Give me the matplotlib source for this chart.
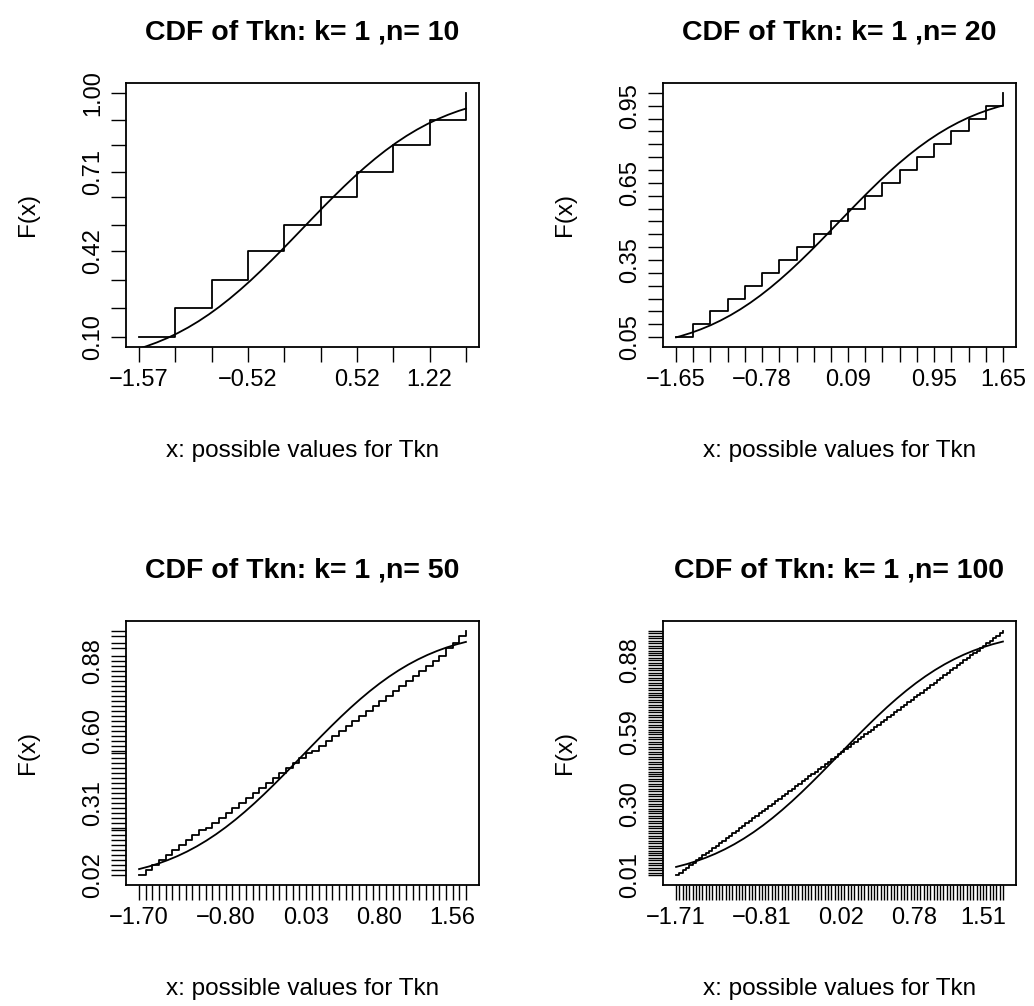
import matplotlib
matplotlib.use("Agg")
import matplotlib.pyplot as plt

plt.rcParams["font.family"] = ["Liberation Sans", "DejaVu Sans"]

# possible values of Tkn (x) and step heights F(x), one pair per panel
x_n10 = [-1.571, -1.222, -0.873, -0.524, -0.175, 0.175, 0.524, 0.873, 1.222, 1.571]
F_n10 = [0.100, 0.208, 0.309, 0.418, 0.512, 0.617, 0.708, 0.806, 0.899, 1.000]

x_n20 = [-1.650, -1.476, -1.303, -1.129, -0.955, -0.782, -0.608, -0.434, -0.261, -0.087,
         0.087, 0.261, 0.434, 0.608, 0.782, 0.955, 1.129, 1.303, 1.476, 1.650]
F_n20 = [0.05, 0.10, 0.15, 0.20, 0.25, 0.30, 0.35, 0.40, 0.45, 0.50,
         0.55, 0.60, 0.65, 0.70, 0.75, 0.80, 0.85, 0.90, 0.95, 1.00]

x_n50 = [-1.700, -1.631, -1.561, -1.492, -1.422, -1.353, -1.284, -1.214, -1.145, -1.076,
         -1.006, -0.937, -0.867, -0.798, -0.729, -0.659, -0.590, -0.520, -0.451, -0.382,
         -0.312, -0.243, -0.173, -0.104, -0.035, 0.035, 0.104, 0.173, 0.243, 0.312,
         0.382, 0.451, 0.520, 0.590, 0.659, 0.729, 0.798, 0.867, 0.937, 1.006,
         1.076, 1.145, 1.214, 1.284, 1.353, 1.422, 1.492, 1.561, 1.631, 1.700]
F_n50 = [0.02, 0.04, 0.06, 0.08, 0.10, 0.12, 0.14, 0.16, 0.18, 0.20,
         0.21, 0.23, 0.25, 0.27, 0.29, 0.31, 0.33, 0.35, 0.37, 0.39,
         0.41, 0.43, 0.45, 0.47, 0.49, 0.51, 0.52, 0.54, 0.56, 0.58,
         0.60, 0.62, 0.64, 0.66, 0.68, 0.70, 0.72, 0.74, 0.76, 0.78,
         0.80, 0.82, 0.84, 0.86, 0.88, 0.90, 0.93, 0.95, 0.98, 1.00]

x_n100 = [-1.710, -1.675, -1.641, -1.606, -1.572, -1.537, -1.503, -1.468, -1.434, -1.399,
          -1.365, -1.330, -1.295, -1.261, -1.226, -1.192, -1.157, -1.123, -1.088, -1.054,
          -1.019, -0.985, -0.950, -0.915, -0.881, -0.846, -0.812, -0.777, -0.743, -0.708,
          -0.674, -0.639, -0.605, -0.570, -0.535, -0.501, -0.466, -0.432, -0.397, -0.363,
          -0.328, -0.294, -0.259, -0.225, -0.190, -0.155, -0.121, -0.086, -0.052, -0.017,
          0.017, 0.052, 0.086, 0.121, 0.155, 0.190, 0.225, 0.259, 0.294, 0.328,
          0.363, 0.397, 0.432, 0.466, 0.501, 0.535, 0.570, 0.605, 0.639, 0.674,
          0.708, 0.743, 0.777, 0.812, 0.846, 0.881, 0.915, 0.950, 0.985, 1.019,
          1.054, 1.088, 1.123, 1.157, 1.192, 1.226, 1.261, 1.295, 1.330, 1.365,
          1.399, 1.434, 1.468, 1.503, 1.537, 1.572, 1.606, 1.641, 1.675, 1.710]
F_n100 = [0.01, 0.02, 0.03, 0.04, 0.05, 0.06, 0.07, 0.08, 0.09, 0.10,
          0.11, 0.12, 0.13, 0.14, 0.15, 0.16, 0.17, 0.18, 0.19, 0.20,
          0.21, 0.22, 0.23, 0.24, 0.25, 0.26, 0.27, 0.28, 0.29, 0.30,
          0.31, 0.32, 0.33, 0.34, 0.35, 0.36, 0.37, 0.38, 0.39, 0.40,
          0.41, 0.42, 0.43, 0.44, 0.45, 0.46, 0.47, 0.48, 0.49, 0.50,
          0.51, 0.52, 0.53, 0.54, 0.55, 0.56, 0.57, 0.58, 0.59, 0.60,
          0.61, 0.62, 0.63, 0.64, 0.65, 0.66, 0.67, 0.68, 0.69, 0.70,
          0.71, 0.72, 0.73, 0.74, 0.75, 0.76, 0.77, 0.78, 0.79, 0.80,
          0.81, 0.82, 0.83, 0.84, 0.85, 0.86, 0.87, 0.88, 0.89, 0.90,
          0.91, 0.92, 0.93, 0.94, 0.95, 0.96, 0.97, 0.98, 0.99, 1.00]

curve_x = [-1.7, -1.6, -1.5, -1.4, -1.3, -1.2, -1.1, -1.0, -0.9, -0.8, -0.7, -0.6,
           -0.5, -0.4, -0.3, -0.2, -0.1, 0.0, 0.1, 0.2, 0.3, 0.4, 0.5, 0.6,
           0.7, 0.8, 0.9, 1.0, 1.1, 1.2, 1.3, 1.4, 1.5, 1.6, 1.7]
curve_F = [0.0446, 0.0548, 0.0668, 0.0808, 0.0968, 0.1151, 0.1357, 0.1587, 0.1841,
           0.2119, 0.2420, 0.2743, 0.3085, 0.3446, 0.3821, 0.4207, 0.4602, 0.5000,
           0.5398, 0.5793, 0.6179, 0.6554, 0.6915, 0.7257, 0.7580, 0.7881, 0.8159,
           0.8413, 0.8643, 0.8849, 0.9032, 0.9192, 0.9332, 0.9452, 0.9554]
# curve values at each panel's end points (lo, hi)
curve_ends = [(0.0582, 0.9418), (0.0495, 0.9505), (0.0446, 0.9554), (0.0436, 0.9564)]

ns = [10, 20, 50, 100]
xs = [x_n10, x_n20, x_n50, x_n100]
Fs = [F_n10, F_n20, F_n50, F_n100]

# which ticks get a label, and the label text
xlab_idx = [[0, 3, 6, 8], [0, 5, 10, 15, 19], [0, 13, 25, 36, 47], [0, 26, 50, 72, 93]]
xlab_txt = [["\u22121.57", "\u22120.52", "0.52", "1.22"],
            ["\u22121.65", "\u22120.78", "0.09", "0.95", "1.65"],
            ["\u22121.70", "\u22120.80", "0.03", "0.80", "1.56"],
            ["\u22121.71", "\u22120.81", "0.02", "0.78", "1.51"]]
ylab_idx = [[0, 3, 6, 9], [0, 6, 12, 18], [0, 15, 30, 44], [0, 29, 58, 87]]
ylab_txt = [["0.10", "0.42", "0.71", "1.00"],
            ["0.05", "0.35", "0.65", "0.95"],
            ["0.02", "0.31", "0.60", "0.88"],
            ["0.01", "0.30", "0.59", "0.88"]]

W, H = 1034, 1006
fig = plt.figure(figsize=(W / 100, H / 100), dpi=100)
corners = [(126, 83), (663, 83), (126, 621), (663, 621)]
aw, ah = 353, 264
lw = 1.3

for k in range(4):
    left, top = corners[k]
    ax = fig.add_axes([left / W, 1 - (top + ah) / H, aw / W, ah / H])
    x, F = xs[k], Fs[k]

    ax.plot(x, F, drawstyle="steps-post", color="black", lw=lw)

    lo, hi = x[0], x[-1]
    cx = [lo] + [v for v in curve_x if lo < v < hi] + [hi]
    cF = [curve_ends[k][0]] + [f for v, f in zip(curve_x, curve_F) if lo < v < hi] + [curve_ends[k][1]]
    ax.plot(cx, cF, color="black", lw=lw)

    xr = hi - lo
    yr = max(F) - min(F)
    ax.set_xlim(lo - 0.04 * xr, hi + 0.04 * xr)
    ax.set_ylim(min(F) - 0.04 * yr, max(F) + 0.04 * yr)

    xl = [""] * len(x)
    for i, t in zip(xlab_idx[k], xlab_txt[k]):
        xl[i] = t
    yl = [""] * len(F)
    for i, t in zip(ylab_idx[k], ylab_txt[k]):
        yl[i] = t
    ax.set_xticks(x)
    ax.set_xticklabels(xl, fontsize=17)
    ax.set_yticks(F)
    ax.set_yticklabels(yl, fontsize=17, rotation=90, va="center")
    ax.tick_params(direction="out", length=10.8, width=1.0, color="black", pad=5)
    for s in ax.spines.values():
        s.set_linewidth(lw)

    ax.text(0.5, 1.193, "CDF of Tkn: k= 1 ,n= %d" % ns[k], transform=ax.transAxes,
            ha="center", va="center", fontsize=20.5, fontweight="bold")
    ax.text(0.5, -0.394, "x: possible values for Tkn", transform=ax.transAxes,
            ha="center", va="center", fontsize=17.5)
    ax.text(-0.278, 0.5, "F(x)", transform=ax.transAxes, rotation=90,
            ha="center", va="center", fontsize=17.5)

fig.savefig("out.png", dpi=100)
